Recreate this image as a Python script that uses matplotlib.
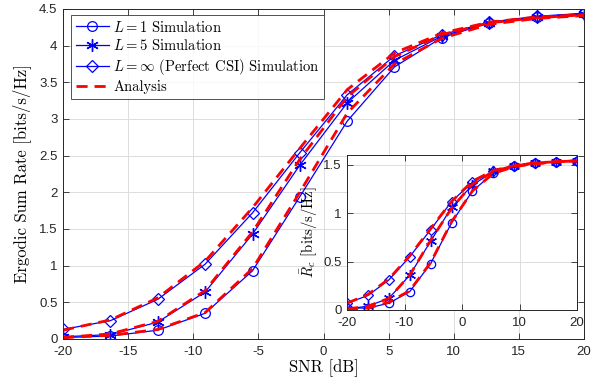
import numpy as np
import matplotlib
matplotlib.use('Agg')
import matplotlib.pyplot as plt

plt.rcParams['mathtext.fontset'] = 'cm'
plt.rcParams['font.family'] = 'Liberation Sans'
plt.rcParams['axes.unicode_minus'] = False

# SNR grid (dB)
snr = [-20, -16.36, -12.73, -9.09, -5.45, -1.82, 1.82, 5.45, 9.09, 12.73, 16.36, 20]

# Ergodic sum rate, main plot
sim_L1 = [0.02, 0.04, 0.12, 0.35, 0.93, 1.94, 2.97, 3.71, 4.11, 4.31, 4.39, 4.44]
sim_L5 = [0.03, 0.06, 0.23, 0.64, 1.43, 2.37, 3.22, 3.80, 4.13, 4.31, 4.39, 4.43]
sim_inf = [0.13, 0.25, 0.54, 1.02, 1.72, 2.54, 3.33, 3.86, 4.15, 4.32, 4.40, 4.44]
ana_L1 = [0.02, 0.05, 0.13, 0.36, 0.96, 2.00, 3.08, 3.75, 4.10, 4.29, 4.37, 4.41]
ana_L5 = [0.02, 0.07, 0.24, 0.66, 1.46, 2.45, 3.30, 3.85, 4.15, 4.31, 4.38, 4.42]
ana_inf = [0.12, 0.26, 0.56, 1.06, 1.79, 2.60, 3.40, 3.90, 4.17, 4.32, 4.39, 4.42]

# common rate R_c, inset
rc_sim_L1 = [0.02, 0.02, 0.07, 0.19, 0.48, 0.90, 1.23, 1.41, 1.49, 1.52, 1.53, 1.54]
rc_sim_L5 = [0.01, 0.04, 0.12, 0.36, 0.71, 1.06, 1.29, 1.43, 1.49, 1.52, 1.53, 1.54]
rc_sim_inf = [0.07, 0.15, 0.31, 0.55, 0.83, 1.12, 1.32, 1.43, 1.49, 1.52, 1.53, 1.54]
rc_ana_L1 = [0.01, 0.02, 0.08, 0.20, 0.49, 0.91, 1.23, 1.41, 1.48, 1.51, 1.53, 1.54]
rc_ana_L5 = [0.01, 0.04, 0.12, 0.36, 0.72, 1.05, 1.30, 1.43, 1.49, 1.51, 1.53, 1.54]
rc_ana_inf = [0.07, 0.16, 0.32, 0.56, 0.84, 1.12, 1.33, 1.44, 1.49, 1.52, 1.53, 1.54]

blue = '#0000ff'
red = '#ff0000'
serif = 'cmr10'
star = (6, 2, 0)  # matlab-like asterisk


def style_axes(ax, fs):
    ax.grid(True, color='#dcdcdc', linewidth=0.7)
    ax.set_axisbelow(True)
    ax.tick_params(direction='in', top=True, right=True, labelsize=fs,
                   length=4, width=0.6, colors='#262626')
    ax.tick_params(axis='x', pad=5)
    ax.tick_params(axis='y', pad=4)
    for s in ax.spines.values():
        s.set_linewidth(0.7)
        s.set_color('#262626')


fig = plt.figure(figsize=(6.03, 3.86), dpi=100)
ax = fig.add_axes([0.1045, 0.1218, 0.864, 0.855])

ax.plot(snr, sim_L1, '-o', color=blue, lw=0.9, ms=7, mfc='none', mew=0.9,
        label=r'$L=1$ Simulation')
ax.plot(snr, sim_L5, '-', marker=star, color=blue, lw=0.9, ms=9, mew=1.0,
        label=r'$L=5$ Simulation')
ax.plot(snr, sim_inf, '-D', color=blue, lw=0.9, ms=6, mfc='none', mew=0.9,
        label=r'$L=\infty$ (Perfect CSI) Simulation')
for i, y in enumerate([ana_L1, ana_L5, ana_inf]):
    ax.plot(snr, y, '--', color=red, lw=2.0, dashes=(4, 2.5),
            label='Analysis' if i == 0 else None)

ax.set_xlim(-20, 20)
ax.set_ylim(0, 4.5)
ax.set_xticks(np.arange(-20, 21, 5))
ax.set_yticks(np.arange(0, 4.6, 0.5))
ax.set_yticklabels(['0', '0.5', '1', '1.5', '2', '2.5', '3', '3.5', '4', '4.5'])
style_axes(ax, 9.5)
ax.set_xlabel('SNR [dB]', family=serif, fontsize=12, labelpad=1)
ax.set_ylabel('Ergodic Sum Rate [bits/s/Hz]', family=serif, fontsize=12,
              labelpad=6)

leg = ax.legend(loc='upper left', bbox_to_anchor=(0.01, 0.99),
                prop={'family': serif, 'size': 10.5}, frameon=True,
                fancybox=False, edgecolor='#262626', borderpad=0.3,
                labelspacing=0.25, handlelength=2.3, handletextpad=0.3,
                borderaxespad=0.2)
leg.get_frame().set_linewidth(0.7)

# inset
ins = fig.add_axes([0.5755, 0.1969, 0.3814, 0.4015])
ins.set_facecolor('white')
ins.plot(snr, rc_sim_L1, '-o', color=blue, lw=0.9, ms=6, mfc='none', mew=0.9)
ins.plot(snr, rc_sim_L5, '-', marker=star, color=blue, lw=0.9, ms=8, mew=1.0)
ins.plot(snr, rc_sim_inf, '-D', color=blue, lw=0.9, ms=5, mfc='none', mew=0.9)
for y in [rc_ana_L1, rc_ana_L5, rc_ana_inf]:
    ins.plot(snr, y, '--', color=red, lw=2.0, dashes=(4, 2.5))
ins.set_xlim(-20, 20)
ins.set_ylim(0, 1.6)
ins.set_xticks([-20, -10, 0, 10, 20])
ins.set_yticks([0, 0.5, 1, 1.5])
ins.set_yticklabels(['0', '0.5', '1', '1.5'])
style_axes(ins, 9.5)
ins.set_ylabel(r'$\bar{R}_c$ [bits/s/Hz]', family=serif, fontsize=10.5,
               labelpad=2)

fig.savefig('out.png', dpi=100, facecolor='white')
